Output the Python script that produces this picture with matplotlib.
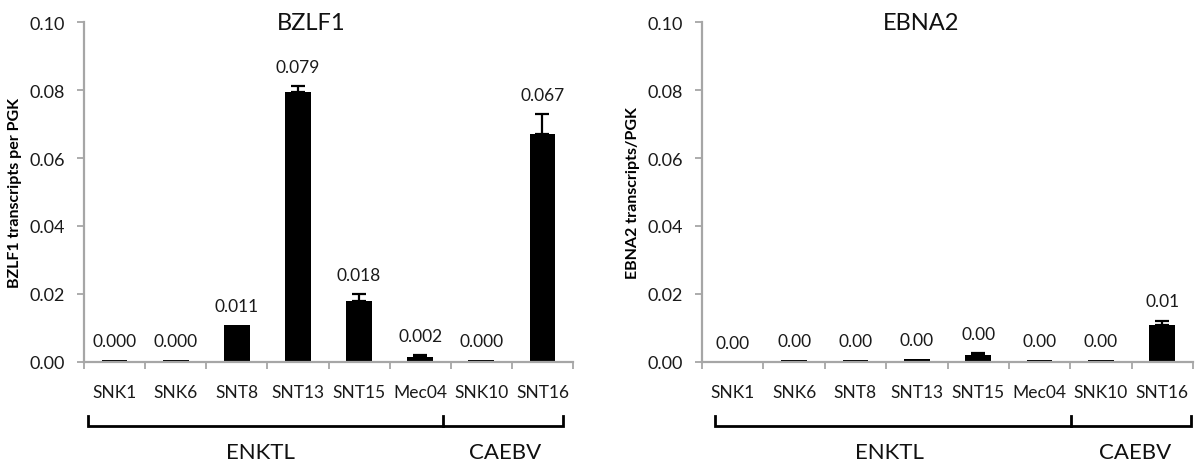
import matplotlib.pyplot as plt
import matplotlib.transforms as mtransforms
import numpy as np

plt.rcParams['font.family'] = ['Lato', 'DejaVu Sans']

samples = ['SNK1', 'SNK6', 'SNT8', 'SNT13', 'SNT15', 'Mec04', 'SNK10', 'SNT16']

bzlf1 = [0.0006, 0.0006, 0.011, 0.0794, 0.018, 0.0015, 0.0006, 0.067]
bzlf1_err = [0.0, 0.0, 0.0, 0.0018, 0.002, 0.0005, 0.0, 0.006]
bzlf1_lbl = ['0.000', '0.000', '0.011', '0.079', '0.018', '0.002', '0.000', '0.067']

ebna2 = [0.0, 0.0006, 0.0006, 0.001, 0.002, 0.0006, 0.0006, 0.011]
ebna2_err = [0.0, 0.0, 0.0, 0.0, 0.0006, 0.0, 0.0, 0.0012]
ebna2_lbl = ['0.00', '0.00', '0.00', '0.00', '0.00', '0.00', '0.00', '0.01']

yticks = [0.0, 0.02, 0.04, 0.06, 0.08, 0.10]
ytick_lbl = ['0.00', '0.02', '0.04', '0.06', '0.08', '0.10']

groups = ['ENKTL', 'CAEBV']

gray = '#a6a6a6'

fig = plt.figure(figsize=(11.99, 4.64), dpi=100)
ax1 = fig.add_axes([0.0701, 0.2177, 0.4078, 0.7327])
ax2 = fig.add_axes([0.5855, 0.2177, 0.4095, 0.7327])


def draw(ax, vals, errs, lbls, title, title_x, ylabel, br, grp_x):
    x = np.arange(len(samples))
    ax.bar(x, vals, width=0.42, color='black', zorder=2)
    e = np.array(errs)
    m = e > 0
    ax.errorbar(x[m], np.array(vals)[m], yerr=[np.zeros(m.sum()), e[m]],
                fmt='none', ecolor='black', elinewidth=1.6, capsize=5,
                capthick=1.6, zorder=3)
    for xi, v, er, t in zip(x, vals, errs, lbls):
        ax.text(xi, v + er + 0.0056, t, ha='center', va='center',
                fontsize=12.5, color='#1a1a1a')

    ax.set_xlim(-0.5, len(samples) - 0.5)
    ax.set_ylim(0, 0.10)
    ax.set_yticks(yticks)
    ax.set_yticklabels(ytick_lbl, fontsize=13, color='#1a1a1a')
    ax.set_xticks(x)
    ax.set_xticklabels(samples, fontsize=12.5, color='#1a1a1a')
    ax.set_xticks(np.arange(len(samples) + 1) - 0.5, minor=True)
    ax.tick_params(axis='x', which='major', length=0, pad=16)
    ax.tick_params(axis='x', which='minor', length=5, width=1.3, color=gray)
    ax.tick_params(axis='y', length=5, width=1.3, color=gray, pad=9)
    for s in ['top', 'right']:
        ax.spines[s].set_visible(False)
    for s in ['left', 'bottom']:
        ax.spines[s].set_color(gray)
        ax.spines[s].set_linewidth(1.6)

    ax.text(title_x, 1.0, title, transform=ax.transAxes, ha='center',
            va='center', fontsize=17, color='#111111')
    ax.set_ylabel(ylabel, fontsize=11.5, fontweight='bold')
    ax.yaxis.set_label_coords(-0.126, 0.5)

    # group bracket under the sample names
    tr = mtransforms.blended_transform_factory(ax.transData, fig.transFigure)
    yl, yt = 0.0797, 0.1013
    ax.plot([br[0], br[0], br[2], br[2]], [yt, yl, yl, yt], color='black',
            lw=2, transform=tr, clip_on=False, solid_joinstyle='miter')
    ax.plot([br[1], br[1]], [yl, yt], color='black', lw=2, transform=tr,
            clip_on=False)
    for g, gx in zip(groups, grp_x):
        ax.text(gx, 0.0237, g, transform=tr, ha='center', va='center',
                fontsize=16, color='#111111')


draw(ax1, bzlf1, bzlf1_err, bzlf1_lbl, 'BZLF1', 0.464,
     'BZLF1 transcripts per PGK', (-0.435, 5.375, 7.34), (2.38, 6.39))
draw(ax2, ebna2, ebna2_err, ebna2_lbl, 'EBNA2', 0.446,
     'EBNA2 transcripts/PGK', (-0.29, 5.51, 7.46), (2.56, 6.55))

fig.savefig('out.png', dpi=100)
